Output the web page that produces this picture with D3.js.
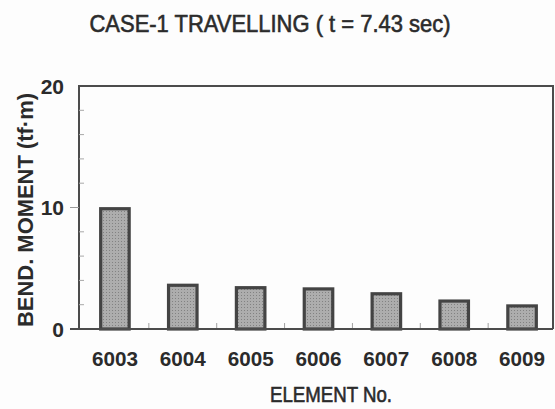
<!DOCTYPE html>
<html>
<head>
<meta charset="utf-8">
<script src="https://cdn.jsdelivr.net/npm/d3@7/dist/d3.min.js"></script>
<style>
  html, body { margin: 0; padding: 0; background: #fdfdfd; }
  svg { display: block; }
  text { font-family: "Liberation Sans", Arial, sans-serif; fill: #2b2b2b; }
</style>
</head>
<body>
<div id="chart"></div>
<script>
// Bending moment per element at t = 7.43 s
const elements = ["6003", "6004", "6005", "6006", "6007", "6008", "6009"];
const moments = [9.9, 3.6, 3.4, 3.3, 2.9, 2.3, 1.9];
const majorTicks = [0, 10, 20];
const minorTicks = [2, 4, 6, 8, 12, 14, 16, 18];

const W = 555, H = 409;
const frame = { left: 79, right: 553, top: 86, bottom: 329 };

const svg = d3.select("#chart").append("svg")
  .attr("width", W).attr("height", H);

// stippled grey fill for the bars
const defs = svg.append("defs");
const pat = defs.append("pattern")
  .attr("id", "stipple").attr("patternUnits", "userSpaceOnUse")
  .attr("width", 3).attr("height", 3);
pat.append("rect").attr("width", 3).attr("height", 3).attr("fill", "#adadad");
pat.append("rect").attr("x", 1).attr("y", 1).attr("width", 1).attr("height", 1).attr("fill", "#828282");

const x = d3.scaleBand()
  .domain(elements)
  .range([81, 556])
  .paddingInner(0.58)
  .paddingOuter(0.29);

const y = d3.scaleLinear()
  .domain([0, 20])
  .range([frame.bottom, frame.top]);

// frame: left axis, top and right border
const lineColor = "#4c4c4c";
svg.append("path")
  .attr("d", `M${frame.left},${y(0)}V${y(20)}H${frame.right}V${y(0)}`)
  .attr("fill", "none").attr("stroke", lineColor).attr("stroke-width", 2);

// major ticks (outside) and minor ticks (inside)
svg.append("g").selectAll("line").data(majorTicks.filter(d => d > 0 && d < 20)).join("line")
  .attr("x1", frame.left - 9).attr("x2", frame.left)
  .attr("y1", d => y(d)).attr("y2", d => y(d))
  .attr("stroke", "#9a9a9a").attr("stroke-width", 1);
svg.append("g").selectAll("line").data(minorTicks).join("line")
  .attr("x1", frame.left).attr("x2", frame.left + 5)
  .attr("y1", d => y(d)).attr("y2", d => y(d))
  .attr("stroke", "#a8a8a8").attr("stroke-width", 1);

// category separator ticks on the baseline
const bounds = elements.slice(1).map(e => x(e) - x.step() * x.paddingInner() / 2);
svg.append("g").selectAll("line").data(bounds).join("line")
  .attr("x1", d => d).attr("x2", d => d)
  .attr("y1", y(0)).attr("y2", y(0) - 6)
  .attr("stroke", "#a0a0a0").attr("stroke-width", 1);

// bars
svg.append("g").selectAll("rect").data(elements).join("rect")
  .attr("x", d => x(d))
  .attr("width", x.bandwidth())
  .attr("y", (d, i) => y(moments[i]))
  .attr("height", (d, i) => y(0) - y(moments[i]))
  .attr("fill", "url(#stipple)")
  .attr("stroke", "#444").attr("stroke-width", 3.2);

// baseline drawn over bar bottoms, extending left past the axis
svg.append("line")
  .attr("x1", frame.left - 9).attr("x2", frame.right)
  .attr("y1", y(0)).attr("y2", y(0))
  .attr("stroke", lineColor).attr("stroke-width", 2);

// y tick labels
svg.append("g").selectAll("text").data(majorTicks).join("text")
  .attr("x", 64).attr("y", d => y(d)).attr("dy", "0.36em")
  .attr("text-anchor", "end")
  .attr("font-size", 21).attr("font-weight", "bold")
  .text(d => d);

// x tick labels
svg.append("g").selectAll("text").data(elements).join("text")
  .attr("x", d => x(d) + x.bandwidth() / 2).attr("y", 366)
  .attr("text-anchor", "middle")
  .attr("font-size", 21).attr("font-weight", "bold")
  .attr("textLength", 46).attr("lengthAdjust", "spacingAndGlyphs")
  .text(d => d);

// axis titles
svg.append("text")
  .attr("x", 331).attr("y", 402)
  .attr("text-anchor", "middle")
  .attr("font-size", 21.5)
  .attr("textLength", 122).attr("lengthAdjust", "spacingAndGlyphs")
  .attr("stroke", "#2b2b2b").attr("stroke-width", 0.6)
  .text("ELEMENT No.");

svg.append("text")
  .attr("transform", "translate(33,210) rotate(-90)")
  .attr("text-anchor", "middle")
  .attr("font-size", 22).attr("font-weight", "bold")
  .attr("textLength", 234).attr("lengthAdjust", "spacingAndGlyphs")
  .text("BEND. MOMENT (tf·m)");

// chart title
svg.append("text")
  .attr("x", 270).attr("y", 32)
  .attr("text-anchor", "middle")
  .attr("font-size", 24)
  .attr("textLength", 361).attr("lengthAdjust", "spacingAndGlyphs")
  .attr("stroke", "#2b2b2b").attr("stroke-width", 0.6)
  .text("CASE-1 TRAVELLING ( t = 7.43 sec)");
</script>
</body>
</html>
